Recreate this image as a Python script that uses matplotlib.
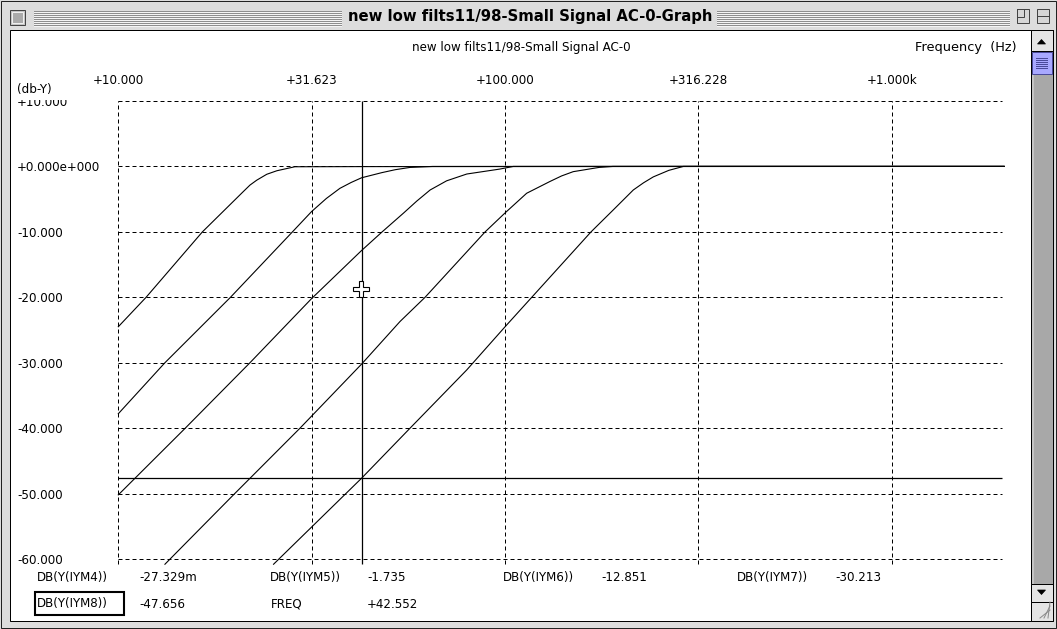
import matplotlib
matplotlib.use('Agg')
import matplotlib.pyplot as plt
from matplotlib.patches import Rectangle, Polygon
from matplotlib.ticker import NullLocator

W, H = 1057, 629

# ------------------------------------------------------------------ data
window_title = 'new low filts11/98-Small Signal AC-0-Graph'
plot_title = 'new low filts11/98-Small Signal AC-0'
x_axis_name = 'Frequency  (Hz)'
y_axis_name = '(db-Y)'

freq_ticks = [10, 31.623, 100, 316.228, 1000]
freq_tick_labels = ['+10.000', '+31.623', '+100.000', '+316.228', '+1.000k']
db_ticks = [10, 0, -10, -20, -30, -40, -50, -60]
db_tick_labels = ['+10.000', '+0.000e+000', '-10.000', '-20.000',
                  '-30.000', '-40.000', '-50.000', '-60.000']

f_iym4 = [10, 11.8, 16.5, 21.0, 21.9, 22.8, 24.2, 25.7, 28.6, 42.552, 1950]
db_iym4 = [-24.5, -20, -10, -3.9, -2.85, -2.1, -1.2, -0.66, -0.05, -0.027, 0]

f_iym5 = [10, 13.2, 19.5, 28.2, 31.6, 34.5, 37.4, 40, 42.552, 48, 52, 56.8, 65, 1950]
db_iym5 = [-37.8, -30, -20, -10, -6.9, -4.9, -3.35, -2.45, -1.735, -0.95, -0.5, -0.15, 0, 0]

f_iym6 = [10, 14.9, 21.9, 31.6, 42.552, 48.1, 54.7, 59.1, 64, 70.6, 79.6, 97, 105, 1950]
db_iym6 = [-50.2, -40, -30, -20.2, -12.851, -10, -7.1, -5.3, -3.6, -2.2, -1.16, -0.4, 0, 0]

f_iym7 = [13.2, 20.0, 29.5, 42.552, 53.5, 62.1, 88.8, 100, 113.7, 130.6, 140, 150, 175, 190, 1950]
db_iym7 = [-60.8, -50, -40, -30.213, -23.7, -20, -10, -7.1, -4.1, -2.3, -1.45, -0.8, -0.15, 0, 0]

f_iym8 = [25.2, 42.552, 56.8, 79.6, 100, 117.2, 166.8, 190, 214.5, 228, 241.6, 265, 289, 1950]
db_iym8 = [-60.8, -47.656, -40, -31.1, -24.5, -20, -10, -6.7, -3.6, -2.5, -1.6, -0.6, 0, 0]

trace_names = ['DB(Y(IYM4))', 'DB(Y(IYM5))', 'DB(Y(IYM6))', 'DB(Y(IYM7))', 'DB(Y(IYM8))']
cursor_readouts = ['-27.329m', '-1.735', '-12.851', '-30.213', '-47.656']
cursor_freq = 42.552
cursor_freq_label = '+42.552'
cursor_db = -47.656
x_min, x_max = 10, 1926
y_min, y_max = -60, 10

# ------------------------------------------------------------------ figure
plt.rcParams['font.family'] = ['DejaVu Sans']
fig = plt.figure(figsize=(W / 100, H / 100), dpi=100)
renderer = fig.canvas.get_renderer()
FS = 8.6


def fit(t, width_px):
    w = t.get_window_extent(renderer).width
    t.set_fontsize(t.get_fontsize() * width_px / w)


bg = fig.add_axes([0, 0, 1, 1], zorder=0)
bg.set_xlim(0, W)
bg.set_ylim(H, 0)
bg.axis('off')


def rect(x0, y0, x1, y1, axes=bg, **kw):
    kw.setdefault('lw', 0.72)
    axes.add_patch(Rectangle((x0, y0), x1 - x0, y1 - y0, **kw))


# window chrome
rect(0, 0, W, H, fc='#dddddd', ec='none')
rect(0.5, 0.5, W - 1, H - 1, fc='none', ec='#222222')
for yy in range(10, 26, 2):
    for xa, xb in [(34, 341), (717, 1009)]:
        bg.plot([xa, xb], [yy + 0.5] * 2, color='#8e8e8e', lw=0.72)
        bg.plot([xa, xb], [yy + 1.5] * 2, color='#f4f4f4', lw=0.72)
rect(9.5, 9.5, 24.5, 24.5, fc='#c4c4c4', ec='#444444')
rect(11.5, 11.5, 22.5, 22.5, fc='#aaaaaa', ec='#efefef')
rect(1016.5, 8.5, 1028.5, 22.5, fc='#d6d6d6', ec='#444444')
rect(1016.5, 8.5, 1023.5, 16.5, fc='none', ec='#444444')
rect(1036.5, 8.5, 1048.5, 22.5, fc='#d6d6d6', ec='#444444')
bg.plot([1036.5, 1048.5], [15.5, 15.5], color='#444444', lw=0.72)

tt = bg.text(530.5, 16, window_title, ha='center', va='center',
             fontweight='bold', fontsize=10, color='black')
fit(tt, 365)

# content area
rect(9.5, 29.5, 1030.5, 620.5, fc='white', ec='black')
# scrollbar
rect(1030.5, 29.5, 1052.5, 620.5, fc='#a8a8a8', ec='black')
rect(1031.5, 50.5, 1033.5, 583.5, fc='#c4c4c4', ec='none')
rect(1030.5, 29.5, 1052.5, 50.5, fc='#e4e4e4', ec='black')
bg.add_patch(Polygon([(1037.5, 44), (1045.5, 44), (1041.5, 39.5)], closed=True,
                     fc='black', ec='black', lw=0.5))
rect(1031.5, 51.5, 1051.5, 73.5, fc='#a8a8ff', ec='#4a4a9a')
for yy in range(57, 69, 2):
    bg.plot([1036, 1047], [yy + 0.5] * 2, color='#4a4a9a', lw=0.72)
rect(1030.5, 583.5, 1052.5, 601.5, fc='#e4e4e4', ec='black')
bg.add_patch(Polygon([(1037.5, 590), (1045.5, 590), (1041.5, 594.5)], closed=True,
                     fc='black', ec='black', lw=0.5))
rect(1030.5, 601.5, 1052.5, 620.5, fc='#e4e4e4', ec='black')
for k in range(3):
    o = 4 * k
    bg.plot([1040 + o, 1050], [618, 608 - o + 2], color='#8a8a8a', lw=0.72)

# header texts
st = bg.text(521.5, 46.5, plot_title, ha='center', va='center_baseline', fontsize=8)
fit(st, 219)
ft = bg.text(915, 46.5, x_axis_name, ha='left', va='center_baseline', fontsize=8)
fit(ft, 102)
bg.text(17, 87.5, y_axis_name, ha='left', va='center_baseline', fontsize=FS)

# readout area
rows = [(576, [(37, trace_names[0]), (139, cursor_readouts[0]),
               (270, trace_names[1]), (367, cursor_readouts[1]),
               (503, trace_names[2]), (601, cursor_readouts[2]),
               (737, trace_names[3]), (835, cursor_readouts[3])]),
        (602.5, [(37, trace_names[4]), (139, cursor_readouts[4]),
                 (271, 'FREQ'), (367, cursor_freq_label)])]
for yy, items in rows:
    for xx, s in items:
        bg.text(xx, yy, s, ha='left', va='center_baseline', fontsize=FS)
rect(35, 592, 124, 615, fc='none', ec='black', lw=1.5)

# ------------------------------------------------------------------ plot axes
left, right, top, bottom = 118.3, 1002, 101, 559
ax = fig.add_axes([left / W, (H - bottom) / H, (right - left) / W, (bottom - top) / H],
                  zorder=1)
ax.set_facecolor('none')
ax.set_xscale('log')
ax.set_xlim(x_min, x_max)
ax.set_ylim(y_min, y_max)
for sp in ax.spines.values():
    sp.set_visible(False)

ax.set_xticks(freq_ticks, freq_tick_labels)
ax.xaxis.set_minor_locator(NullLocator())
ax.xaxis.set_ticks_position('top')
ax.tick_params(axis='x', length=0, pad=15.5, labelsize=FS)
for lbl in ax.get_xticklabels():
    lbl.set_va('center_baseline')

ax.set_yticks(db_ticks, db_tick_labels)
ax.tick_params(axis='y', length=0, pad=(left - 17) * 0.72, labelsize=FS)
for lbl in ax.get_yticklabels():
    lbl.set_ha('left')

dash = (0, (4, 3))
ax.vlines(freq_ticks, y_min - 0.8, y_max, colors='black', lw=0.72,
          linestyles=[dash], clip_on=False)
ax.hlines(db_ticks, x_min, x_max, colors='black', lw=0.72,
          linestyles=[dash], clip_on=False)

for fx, dby in [(f_iym4, db_iym4), (f_iym5, db_iym5), (f_iym6, db_iym6),
                (f_iym7, db_iym7), (f_iym8, db_iym8)]:
    ax.plot(fx, dby, color='black', lw=0.8, clip_on=False)

# cursors
ax.vlines([cursor_freq], y_min - 0.8, y_max, colors='black', lw=0.9, clip_on=False)
ax.hlines([cursor_db], x_min, x_max, colors='black', lw=0.9, clip_on=False)

# foreground: mask that hides the top of the clipped "+10.000" label, mouse pointer
fg = fig.add_axes([0, 0, 1, 1], zorder=2)
fg.set_xlim(0, W)
fg.set_ylim(H, 0)
fg.axis('off')
fg.patch.set_alpha(0)
rect(14, 94.8, 90, 99.6, axes=fg, fc='white', ec='none')
cx, cy = 361, 289
arm = [(-2, -8), (2, -8), (2, -2), (8, -2), (8, 2), (2, 2), (2, 8), (-2, 8),
       (-2, 2), (-8, 2), (-8, -2), (-2, -2)]
fg.add_patch(Polygon([(cx + a, cy + b) for a, b in arm], closed=True,
                     fc='white', ec='black', lw=0.8))

fig.savefig('out.png', dpi=100)
